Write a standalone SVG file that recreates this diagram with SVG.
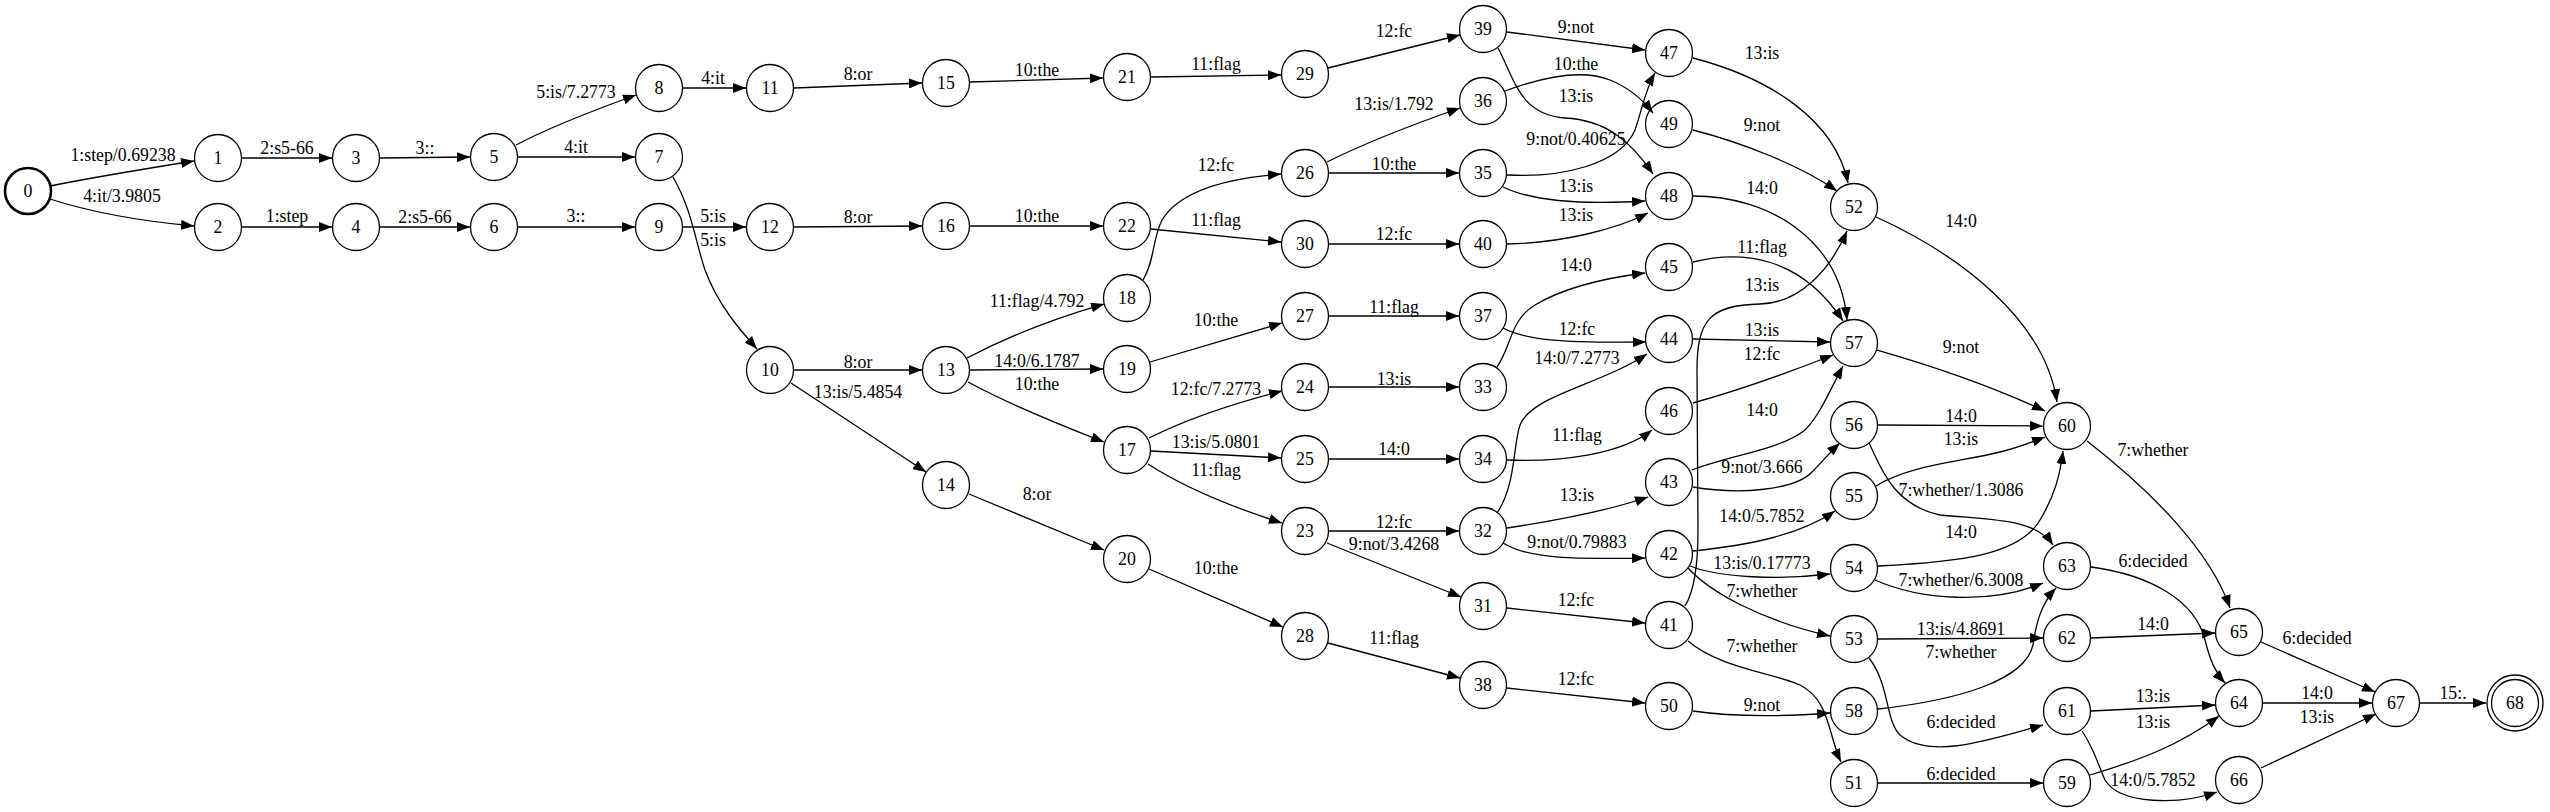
<svg xmlns="http://www.w3.org/2000/svg" width="2550" height="812" viewBox="0 0 2550 812">
<defs>
<marker id="arr" viewBox="0 0 13 10" refX="13" refY="5" markerWidth="13" markerHeight="10" markerUnits="userSpaceOnUse" orient="auto"><path d="M0,0 L13,5 L0,10 z" fill="#000"/></marker>
</defs>
<style>
text{font-family:"Liberation Serif","Times New Roman",serif;font-size:17.8px;text-anchor:middle;fill:#000}
.node circle{fill:none;stroke:#000;stroke-width:1.3}
#connectors path{fill:none;stroke:#000;stroke-width:1.3;marker-end:url(#arr)}
</style>
<rect width="2550" height="812" fill="#fff"/>
<g id="connectors">
<path d="M50,186 C100,176 150,168 194,161"/>
<path d="M50,199 C90,212 140,221 194,226"/>
<path d="M242,158 L332,158"/>
<path d="M242,227 L332,227"/>
<path d="M380,158 L470,157"/>
<path d="M380,227 L470,227"/>
<path d="M516,145 C550,127 600,108 636,95"/>
<path d="M518,157 L635,157"/>
<path d="M518,227 L635,227"/>
<path d="M683,88 L746,88"/>
<path d="M683,227 L746,227"/>
<path d="M673,177 C692,210 695,240 705,270 C718,305 740,330 757,349"/>
<path d="M794,88 L922,83"/>
<path d="M794,227 L922,226"/>
<path d="M794,370 L922,370"/>
<path d="M791,383 L926,472"/>
<path d="M970,82 L1103,78"/>
<path d="M970,226 L1103,226"/>
<path d="M967,358 C1005,338 1055,318 1104,304"/>
<path d="M970,370 L1103,369"/>
<path d="M968,382 C1005,402 1060,425 1104,442"/>
<path d="M969,494 L1104,550"/>
<path d="M1151,77 L1281,75"/>
<path d="M1151,229 L1281,242"/>
<path d="M1143,280 C1155,260 1152,240 1162,220 C1180,190 1230,178 1281,174"/>
<path d="M1150,362 L1282,323"/>
<path d="M1149,438 C1185,420 1235,403 1282,391"/>
<path d="M1151,451 L1281,458"/>
<path d="M1148,464 C1185,488 1235,508 1282,523"/>
<path d="M1149,569 L1283,627"/>
<path d="M1328,68 L1460,35"/>
<path d="M1327,162 C1365,143 1420,122 1460,108"/>
<path d="M1329,173 L1459,173"/>
<path d="M1329,244 L1459,244"/>
<path d="M1329,316 L1459,316"/>
<path d="M1329,387 L1459,387"/>
<path d="M1329,459 L1459,459"/>
<path d="M1329,531 L1459,531"/>
<path d="M1327,543 L1461,597"/>
<path d="M1328,643 L1460,678"/>
<path d="M1507,32 L1645,50"/>
<path d="M1498,48 C1515,80 1520,115 1565,118 C1605,120 1630,140 1653,174"/>
<path d="M1505,91 C1540,78 1580,68 1610,80 C1630,88 1643,100 1653,113"/>
<path d="M1507,175 C1560,178 1620,165 1635,130 C1642,110 1645,90 1655,73"/>
<path d="M1503,187 C1530,200 1580,205 1645,201"/>
<path d="M1507,244 C1560,243 1615,230 1648,213"/>
<path d="M1497,367 C1512,345 1510,320 1535,305 C1565,287 1605,278 1645,273"/>
<path d="M1503,328 C1525,340 1560,343 1646,342"/>
<path d="M1497,513 C1516,485 1513,445 1520,425 C1532,395 1600,385 1647,354"/>
<path d="M1507,460 C1560,462 1620,455 1652,430"/>
<path d="M1507,528 C1560,520 1610,510 1648,497"/>
<path d="M1503,543 C1530,560 1580,559 1645,558"/>
<path d="M1507,608 L1645,623"/>
<path d="M1507,688 L1645,703"/>
<path d="M1693,58 C1770,78 1835,120 1848,183"/>
<path d="M1693,130 C1740,142 1800,165 1837,191"/>
<path d="M1693,196 C1770,196 1840,240 1847,320"/>
<path d="M1693,262 C1740,250 1800,255 1843,321"/>
<path d="M1685,606 C1695,590 1698,560 1698,530 L1697,370 C1697,320 1710,305 1760,304 C1800,303 1830,270 1847,231"/>
<path d="M1693,339 L1830,342"/>
<path d="M1693,403 C1740,390 1790,372 1833,355"/>
<path d="M1692,470 C1730,455 1780,450 1805,430 C1820,415 1830,390 1843,366"/>
<path d="M1693,487 C1740,495 1795,490 1812,472 C1822,462 1830,452 1840,443"/>
<path d="M1693,551 C1750,545 1800,535 1835,511"/>
<path d="M1690,566 C1720,578 1780,580 1830,574"/>
<path d="M1688,568 C1710,592 1760,620 1830,636"/>
<path d="M1688,641 C1720,668 1770,672 1800,685 C1830,700 1828,735 1841,762"/>
<path d="M1693,711 C1740,718 1790,716 1830,713"/>
<path d="M1876,217 C1960,255 2045,320 2057,402"/>
<path d="M1877,350 C1940,368 2000,390 2045,411"/>
<path d="M1878,425 L2043,426"/>
<path d="M1876,486 C1910,465 1960,462 2000,452 C2020,447 2032,442 2045,437"/>
<path d="M1869,443 C1880,465 1892,505 1940,515 C1990,520 2035,518 2053,545"/>
<path d="M1878,566 C1960,562 2020,555 2040,520 C2055,495 2060,475 2063,451"/>
<path d="M1875,580 C1920,600 1990,605 2043,583"/>
<path d="M1878,639 L2043,638"/>
<path d="M1878,709 C1960,700 2025,680 2033,645 C2036,625 2040,605 2056,588"/>
<path d="M1869,658 C1890,685 1885,720 1900,735 C1930,760 1990,740 2043,725"/>
<path d="M1878,783 L2043,783"/>
<path d="M2087,441 C2150,490 2210,550 2230,608"/>
<path d="M2091,567 C2150,575 2195,600 2205,640 C2210,660 2215,672 2225,683"/>
<path d="M2091,638 L2215,633"/>
<path d="M2091,711 L2215,705"/>
<path d="M2090,775 C2140,760 2180,745 2219,716"/>
<path d="M2082,731 C2095,750 2100,770 2105,780 C2120,805 2180,805 2217,792"/>
<path d="M2261,642 L2375,692"/>
<path d="M2263,703 L2372,703"/>
<path d="M2261,768 L2376,714"/>
<path d="M2420,703 L2486,703"/>
<g id="edge-labels">
<text x="123" y="161">1:step/0.69238</text>
<text x="122" y="202">4:it/3.9805</text>
<text x="287" y="154">2:s5-66</text>
<text x="287" y="222">1:step</text>
<text x="425" y="154">3::</text>
<text x="425" y="223">2:s5-66</text>
<text x="576" y="98">5:is/7.2773</text>
<text x="576" y="153">4:it</text>
<text x="576" y="222">3::</text>
<text x="713" y="84">4:it</text>
<text x="713" y="222">5:is</text>
<text x="713" y="246">5:is</text>
<text x="858" y="80">8:or</text>
<text x="858" y="223">8:or</text>
<text x="858" y="368">8:or</text>
<text x="858" y="398">13:is/5.4854</text>
<text x="1037" y="76">10:the</text>
<text x="1037" y="222">10:the</text>
<text x="1037" y="307">11:flag/4.792</text>
<text x="1037" y="367">14:0/6.1787</text>
<text x="1037" y="390">10:the</text>
<text x="1037" y="500">8:or</text>
<text x="1216" y="70">11:flag</text>
<text x="1216" y="171">12:fc</text>
<text x="1216" y="226">11:flag</text>
<text x="1216" y="326">10:the</text>
<text x="1216" y="395">12:fc/7.2773</text>
<text x="1216" y="448">13:is/5.0801</text>
<text x="1216" y="476">11:flag</text>
<text x="1216" y="574">10:the</text>
<text x="1394" y="37">12:fc</text>
<text x="1394" y="110">13:is/1.792</text>
<text x="1394" y="170">10:the</text>
<text x="1394" y="240">12:fc</text>
<text x="1394" y="313">11:flag</text>
<text x="1394" y="385">13:is</text>
<text x="1394" y="455">14:0</text>
<text x="1394" y="528">12:fc</text>
<text x="1394" y="550">9:not/3.4268</text>
<text x="1394" y="644">11:flag</text>
<text x="1576" y="33">9:not</text>
<text x="1576" y="70">10:the</text>
<text x="1576" y="102">13:is</text>
<text x="1576" y="145">9:not/0.40625</text>
<text x="1576" y="192">13:is</text>
<text x="1576" y="221">13:is</text>
<text x="1576" y="271">14:0</text>
<text x="1577" y="335">12:fc</text>
<text x="1577" y="364">14:0/7.2773</text>
<text x="1577" y="441">11:flag</text>
<text x="1577" y="501">13:is</text>
<text x="1577" y="548">9:not/0.79883</text>
<text x="1576" y="606">12:fc</text>
<text x="1576" y="685">12:fc</text>
<text x="1762" y="59">13:is</text>
<text x="1762" y="131">9:not</text>
<text x="1762" y="194">14:0</text>
<text x="1762" y="253">11:flag</text>
<text x="1762" y="291">13:is</text>
<text x="1762" y="336">13:is</text>
<text x="1762" y="360">12:fc</text>
<text x="1762" y="416">14:0</text>
<text x="1762" y="473">9:not/3.666</text>
<text x="1762" y="522">14:0/5.7852</text>
<text x="1762" y="569">13:is/0.17773</text>
<text x="1762" y="597">7:whether</text>
<text x="1762" y="652">7:whether</text>
<text x="1762" y="711">9:not</text>
<text x="1961" y="227">14:0</text>
<text x="1961" y="353">9:not</text>
<text x="1961" y="422">14:0</text>
<text x="1961" y="445">13:is</text>
<text x="1961" y="496">7:whether/1.3086</text>
<text x="1961" y="538">14:0</text>
<text x="1961" y="586">7:whether/6.3008</text>
<text x="1961" y="635">13:is/4.8691</text>
<text x="1961" y="658">7:whether</text>
<text x="1961" y="728">6:decided</text>
<text x="1961" y="780">6:decided</text>
<text x="2153" y="456">7:whether</text>
<text x="2153" y="567">6:decided</text>
<text x="2153" y="630">14:0</text>
<text x="2153" y="702">13:is</text>
<text x="2153" y="728">13:is</text>
<text x="2153" y="786">14:0/5.7852</text>
<text x="2317" y="644">6:decided</text>
<text x="2317" y="699">14:0</text>
<text x="2317" y="723">13:is</text>
<text x="2453" y="699">15:.</text>
</g>
</g>
<g id="node-0" class="node"><circle cx="28" cy="191" r="23" style="stroke-width:2.6"/><text x="28" y="197">0</text></g>
<g id="node-1" class="node"><circle cx="218" cy="158" r="23.5"/><text x="218" y="164">1</text></g>
<g id="node-2" class="node"><circle cx="218" cy="227" r="23.5"/><text x="218" y="233">2</text></g>
<g id="node-3" class="node"><circle cx="356" cy="158" r="23.5"/><text x="356" y="164">3</text></g>
<g id="node-4" class="node"><circle cx="356" cy="227" r="23.5"/><text x="356" y="233">4</text></g>
<g id="node-5" class="node"><circle cx="494" cy="157" r="23.5"/><text x="494" y="163">5</text></g>
<g id="node-6" class="node"><circle cx="494" cy="227" r="23.5"/><text x="494" y="233">6</text></g>
<g id="node-7" class="node"><circle cx="659" cy="157" r="23.5"/><text x="659" y="163">7</text></g>
<g id="node-8" class="node"><circle cx="659" cy="88" r="23.5"/><text x="659" y="94">8</text></g>
<g id="node-9" class="node"><circle cx="659" cy="227" r="23.5"/><text x="659" y="233">9</text></g>
<g id="node-10" class="node"><circle cx="770" cy="370" r="23.5"/><text x="770" y="376">10</text></g>
<g id="node-11" class="node"><circle cx="770" cy="88" r="23.5"/><text x="770" y="94">11</text></g>
<g id="node-12" class="node"><circle cx="770" cy="227" r="23.5"/><text x="770" y="233">12</text></g>
<g id="node-13" class="node"><circle cx="946" cy="370" r="23.5"/><text x="946" y="376">13</text></g>
<g id="node-14" class="node"><circle cx="946" cy="485" r="23.5"/><text x="946" y="491">14</text></g>
<g id="node-15" class="node"><circle cx="946" cy="83" r="23.5"/><text x="946" y="89">15</text></g>
<g id="node-16" class="node"><circle cx="946" cy="226" r="23.5"/><text x="946" y="232">16</text></g>
<g id="node-17" class="node"><circle cx="1127" cy="450" r="23.5"/><text x="1127" y="456">17</text></g>
<g id="node-18" class="node"><circle cx="1127" cy="298" r="23.5"/><text x="1127" y="304">18</text></g>
<g id="node-19" class="node"><circle cx="1127" cy="369" r="23.5"/><text x="1127" y="375">19</text></g>
<g id="node-20" class="node"><circle cx="1127" cy="559" r="23.5"/><text x="1127" y="565">20</text></g>
<g id="node-21" class="node"><circle cx="1127" cy="77" r="23.5"/><text x="1127" y="83">21</text></g>
<g id="node-22" class="node"><circle cx="1127" cy="226" r="23.5"/><text x="1127" y="232">22</text></g>
<g id="node-23" class="node"><circle cx="1305" cy="531" r="23.5"/><text x="1305" y="537">23</text></g>
<g id="node-24" class="node"><circle cx="1305" cy="387" r="23.5"/><text x="1305" y="393">24</text></g>
<g id="node-25" class="node"><circle cx="1305" cy="459" r="23.5"/><text x="1305" y="465">25</text></g>
<g id="node-26" class="node"><circle cx="1305" cy="173" r="23.5"/><text x="1305" y="179">26</text></g>
<g id="node-27" class="node"><circle cx="1305" cy="316" r="23.5"/><text x="1305" y="322">27</text></g>
<g id="node-28" class="node"><circle cx="1305" cy="636" r="23.5"/><text x="1305" y="642">28</text></g>
<g id="node-29" class="node"><circle cx="1305" cy="74" r="23.5"/><text x="1305" y="80">29</text></g>
<g id="node-30" class="node"><circle cx="1305" cy="244" r="23.5"/><text x="1305" y="250">30</text></g>
<g id="node-31" class="node"><circle cx="1483" cy="606" r="23.5"/><text x="1483" y="612">31</text></g>
<g id="node-32" class="node"><circle cx="1483" cy="531" r="23.5"/><text x="1483" y="537">32</text></g>
<g id="node-33" class="node"><circle cx="1483" cy="387" r="23.5"/><text x="1483" y="393">33</text></g>
<g id="node-34" class="node"><circle cx="1483" cy="459" r="23.5"/><text x="1483" y="465">34</text></g>
<g id="node-35" class="node"><circle cx="1483" cy="173" r="23.5"/><text x="1483" y="179">35</text></g>
<g id="node-36" class="node"><circle cx="1483" cy="101" r="23.5"/><text x="1483" y="107">36</text></g>
<g id="node-37" class="node"><circle cx="1483" cy="316" r="23.5"/><text x="1483" y="322">37</text></g>
<g id="node-38" class="node"><circle cx="1483" cy="685" r="23.5"/><text x="1483" y="691">38</text></g>
<g id="node-39" class="node"><circle cx="1483" cy="29" r="23.5"/><text x="1483" y="35">39</text></g>
<g id="node-40" class="node"><circle cx="1483" cy="244" r="23.5"/><text x="1483" y="250">40</text></g>
<g id="node-41" class="node"><circle cx="1669" cy="625" r="23.5"/><text x="1669" y="631">41</text></g>
<g id="node-42" class="node"><circle cx="1669" cy="554" r="23.5"/><text x="1669" y="560">42</text></g>
<g id="node-43" class="node"><circle cx="1669" cy="482" r="23.5"/><text x="1669" y="488">43</text></g>
<g id="node-44" class="node"><circle cx="1669" cy="339" r="23.5"/><text x="1669" y="345">44</text></g>
<g id="node-45" class="node"><circle cx="1669" cy="267" r="23.5"/><text x="1669" y="273">45</text></g>
<g id="node-46" class="node"><circle cx="1669" cy="411" r="23.5"/><text x="1669" y="417">46</text></g>
<g id="node-47" class="node"><circle cx="1669" cy="53" r="23.5"/><text x="1669" y="59">47</text></g>
<g id="node-48" class="node"><circle cx="1669" cy="196" r="23.5"/><text x="1669" y="202">48</text></g>
<g id="node-49" class="node"><circle cx="1669" cy="124" r="23.5"/><text x="1669" y="130">49</text></g>
<g id="node-50" class="node"><circle cx="1669" cy="706" r="23.5"/><text x="1669" y="712">50</text></g>
<g id="node-51" class="node"><circle cx="1854" cy="783" r="23.5"/><text x="1854" y="789">51</text></g>
<g id="node-52" class="node"><circle cx="1854" cy="207" r="23.5"/><text x="1854" y="213">52</text></g>
<g id="node-53" class="node"><circle cx="1854" cy="639" r="23.5"/><text x="1854" y="645">53</text></g>
<g id="node-54" class="node"><circle cx="1854" cy="568" r="23.5"/><text x="1854" y="574">54</text></g>
<g id="node-55" class="node"><circle cx="1854" cy="496" r="23.5"/><text x="1854" y="502">55</text></g>
<g id="node-56" class="node"><circle cx="1854" cy="425" r="23.5"/><text x="1854" y="431">56</text></g>
<g id="node-57" class="node"><circle cx="1854" cy="343" r="23.5"/><text x="1854" y="349">57</text></g>
<g id="node-58" class="node"><circle cx="1854" cy="711" r="23.5"/><text x="1854" y="717">58</text></g>
<g id="node-59" class="node"><circle cx="2067" cy="783" r="23.5"/><text x="2067" y="789">59</text></g>
<g id="node-60" class="node"><circle cx="2067" cy="426" r="23.5"/><text x="2067" y="432">60</text></g>
<g id="node-61" class="node"><circle cx="2067" cy="711" r="23.5"/><text x="2067" y="717">61</text></g>
<g id="node-62" class="node"><circle cx="2067" cy="638" r="23.5"/><text x="2067" y="644">62</text></g>
<g id="node-63" class="node"><circle cx="2067" cy="566" r="23.5"/><text x="2067" y="572">63</text></g>
<g id="node-64" class="node"><circle cx="2239" cy="703" r="23.5"/><text x="2239" y="709">64</text></g>
<g id="node-65" class="node"><circle cx="2239" cy="632" r="23.5"/><text x="2239" y="638">65</text></g>
<g id="node-66" class="node"><circle cx="2239" cy="780" r="23.5"/><text x="2239" y="786">66</text></g>
<g id="node-67" class="node"><circle cx="2396" cy="703" r="23.5"/><text x="2396" y="709">67</text></g>
<g id="node-68" class="node"><circle cx="2515" cy="703" r="28"/><circle cx="2515" cy="703" r="23.5"/><text x="2515" y="709">68</text></g>
</svg>
